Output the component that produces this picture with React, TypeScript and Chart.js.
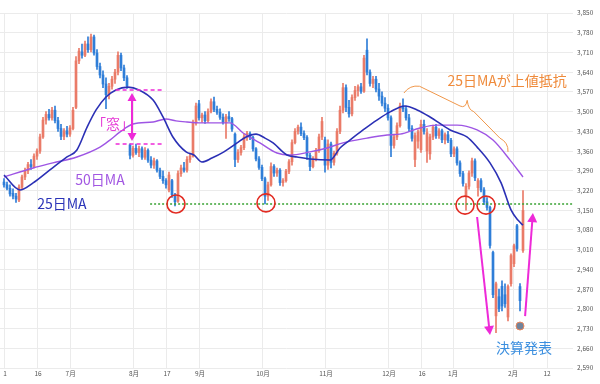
import React, { useEffect, useRef } from "react";
import { Chart, registerables } from "chart.js";
Chart.register(...registerables);

// ---- candle data (index = trading day) ----
const opens = [
  3250, 3240, 3228, 3210, 3200, 3186, 3232, 3268, 3290, 3312, 3305, 3342, 3360, 3410, 3470, 3490, 3478, 3505, 3468, 3440,
  3412, 3432, 3420, 3440, 3515, 3680, 3712, 3700, 3740, 3720, 3765, 3708, 3660, 3630, 3598, 3560, 3590, 3615, 3640, 3700,
  3655, 3620, 3382, 3345, 3370, 3355, 3368, 3338, 3362, 3328, 3310, 3325, 3292, 3270, 3255, 3222, 3255, 3205, 3182, 3280,
  3300, 3292, 3330, 3342, 3460, 3528, 3478, 3488, 3468, 3500, 3535, 3508, 3498, 3480, 3462, 3482, 3475, 3420, 3330, 3355,
  3372, 3410, 3422, 3408, 3368, 3332, 3302, 3262, 3200, 3240, 3305, 3282, 3292, 3248, 3255, 3288, 3322, 3390, 3430, 3445,
  3422, 3408, 3345, 3305, 3332, 3362, 3410, 3400, 3310, 3385, 3320, 3352, 3430, 3505, 3585, 3515, 3492, 3550, 3575, 3588,
  3572, 3718, 3640, 3600, 3615, 3580, 3555, 3530, 3512, 3478, 3380, 3410, 3450, 3520, 3510, 3478, 3440, 3330, 3395, 3365,
  3455, 3360, 3350, 3410, 3445, 3415, 3432, 3400, 3418, 3398, 3350, 3368, 3318, 3280, 3200, 3235, 3282, 3325, 3230, 3255,
  3222, 3180, 3160, 3000, 2775, 2843, 2880, 2850, 2771, 2889, 2960, 3095, 2879, 3007,
];
const highs = [
  3262, 3250, 3240, 3226, 3210, 3240, 3275, 3300, 3320, 3330, 3350, 3368, 3420, 3480, 3500, 3508, 3515, 3520, 3480, 3455,
  3440, 3448, 3450, 3515, 3695, 3725, 3740, 3750, 3765, 3775, 3772, 3720, 3672, 3645, 3620, 3600, 3625, 3650, 3712, 3708,
  3665, 3628, 3386, 3378, 3385, 3378, 3375, 3372, 3368, 3340, 3335, 3330, 3300, 3290, 3262, 3285, 3260, 3210, 3290, 3310,
  3320, 3340, 3350, 3470, 3530, 3540, 3495, 3500, 3510, 3545, 3552, 3520, 3510, 3492, 3490, 3500, 3480, 3425, 3365, 3380,
  3420, 3430, 3428, 3412, 3372, 3340, 3310, 3268, 3250, 3318, 3312, 3300, 3298, 3262, 3295, 3330, 3400, 3440, 3452, 3460,
  3432, 3415, 3352, 3340, 3370, 3420, 3480, 3410, 3400, 3392, 3360, 3440, 3520, 3600, 3595, 3540, 3560, 3590, 3595, 3600,
  3700, 3758, 3648, 3625, 3625, 3600, 3570, 3550, 3525, 3485, 3420, 3460, 3530, 3545, 3520, 3490, 3450, 3425, 3435, 3470,
  3470, 3440, 3420, 3452, 3455, 3440, 3438, 3425, 3430, 3405, 3375, 3375, 3325, 3288, 3245, 3290, 3335, 3332, 3262, 3262,
  3230, 3195, 3165, 3005, 2895, 2870, 2899, 2889, 2885, 2995, 3030, 3100, 2890, 3220,
];
const lows = [
  3232, 3222, 3200, 3190, 3178, 3180, 3225, 3258, 3280, 3295, 3300, 3330, 3352, 3405, 3455, 3470, 3470, 3460, 3430, 3400,
  3400, 3410, 3412, 3435, 3510, 3670, 3690, 3695, 3710, 3712, 3700, 3650, 3620, 3585, 3510, 3545, 3580, 3600, 3630, 3645,
  3610, 3582, 3332, 3338, 3348, 3340, 3330, 3330, 3320, 3300, 3298, 3285, 3262, 3245, 3228, 3215, 3195, 3165, 3178, 3270,
  3285, 3285, 3320, 3338, 3452, 3470, 3462, 3458, 3462, 3495, 3500, 3490, 3472, 3455, 3405, 3465, 3430, 3305, 3320, 3345,
  3365, 3398, 3400, 3360, 3325, 3295, 3255, 3172, 3185, 3235, 3270, 3270, 3238, 3235, 3250, 3280, 3310, 3385, 3420, 3415,
  3400, 3330, 3290, 3300, 3325, 3355, 3400, 3285, 3295, 3300, 3310, 3345, 3422, 3495, 3500, 3480, 3485, 3540, 3555, 3565,
  3568, 3630, 3590, 3585, 3570, 3540, 3520, 3500, 3470, 3340, 3370, 3400, 3445, 3500, 3470, 3430, 3395, 3305, 3370, 3355,
  3420, 3320, 3330, 3400, 3405, 3405, 3390, 3385, 3390, 3340, 3340, 3310, 3270, 3235, 3150, 3225, 3270, 3255, 3200, 3215,
  3170, 3150, 3015, 2840, 2715, 2790, 2793, 2805, 2757, 2880, 2950, 3005, 2793, 3000,
];
const closes = [
  3240, 3228, 3208, 3200, 3190, 3232, 3268, 3290, 3312, 3305, 3342, 3360, 3410, 3470, 3490, 3478, 3505, 3468, 3440, 3412,
  3432, 3420, 3442, 3505, 3680, 3715, 3700, 3740, 3720, 3765, 3708, 3660, 3630, 3598, 3560, 3590, 3615, 3640, 3700, 3655,
  3620, 3592, 3345, 3370, 3355, 3368, 3338, 3362, 3328, 3310, 3325, 3292, 3270, 3255, 3240, 3275, 3205, 3180, 3280, 3300,
  3292, 3330, 3342, 3460, 3520, 3478, 3488, 3468, 3500, 3535, 3508, 3498, 3480, 3462, 3482, 3475, 3438, 3330, 3355, 3372,
  3410, 3422, 3408, 3368, 3332, 3302, 3262, 3200, 3240, 3305, 3282, 3292, 3248, 3255, 3288, 3322, 3390, 3430, 3445, 3422,
  3408, 3345, 3305, 3332, 3362, 3410, 3465, 3310, 3385, 3320, 3352, 3430, 3505, 3585, 3515, 3492, 3550, 3575, 3588, 3572,
  3690, 3640, 3600, 3615, 3580, 3555, 3530, 3512, 3478, 3380, 3410, 3450, 3520, 3510, 3478, 3440, 3405, 3415, 3428, 3455,
  3430, 3425, 3410, 3445, 3415, 3432, 3400, 3418, 3398, 3350, 3368, 3318, 3280, 3245, 3235, 3282, 3325, 3265, 3255, 3222,
  3180, 3160, 3025, 2850, 2889, 2800, 2810, 2818, 2879, 2989, 3024, 3014, 2829, 3149,
];

// ---- moving averages (x = trading-day index) ----
const ma25X = [0, 5.3, 9.7, 15.3, 21, 24.3, 27.7, 30.7, 34, 37.3, 41.3, 45, 49.7, 53, 56.3, 60.7, 63.3, 66, 69.3, 73.3, 77.7, 80.7, 84, 87, 89.7, 94.3, 97.7, 102, 108.7, 112, 115.3, 119.7, 124.3, 128.7, 133.7, 137.7, 142, 148.7, 154.3, 157.7, 162, 165.7, 169, 171.3, 173];
const ma25Y = [3275, 3222, 3247, 3293, 3339, 3364, 3445, 3506, 3552, 3577, 3587, 3577, 3541, 3481, 3410, 3357, 3346, 3321, 3335, 3357, 3389, 3410, 3420, 3406, 3389, 3346, 3339, 3332, 3328, 3371, 3399, 3435, 3470, 3499, 3520, 3506, 3481, 3435, 3410, 3374, 3318, 3247, 3151, 3115, 3097];
const ma50X = [0, 9.7, 16.3, 24.3, 32, 35.3, 38.7, 43, 49.7, 54, 57.3, 61, 65.3, 75.3, 79.7, 85.3, 91, 95.3, 102, 107.7, 113, 121, 127.7, 132, 138.7, 144.3, 151, 157.7, 163, 168.7, 173];
const ma50Y = [3268, 3300, 3318, 3339, 3374, 3399, 3428, 3456, 3463, 3474, 3467, 3463, 3460, 3460, 3424, 3389, 3353, 3346, 3357, 3371, 3389, 3406, 3417, 3420, 3442, 3452, 3452, 3435, 3399, 3328, 3268];

// support line
const supportLevel = 3172;
const supportFrom = 48.7;

// axes
const xTickPos = [0.33, 11.33, 22.2, 43.33, 54.33, 65.33, 86.33, 107.33, 128.33, 139.33, 149.67, 169.67, 181];
const xTickLabels = ["1", "16", "7月", "8月", "17", "9月", "10月", "11月", "12月", "16", "1月", "2月", "12"];
const yTicks = [2590, 2660, 2730, 2800, 2870, 2940, 3010, 3080, 3150, 3220, 3290, 3360, 3430, 3500, 3570, 3640, 3710, 3780, 3850];

// annotations (data coordinates)
const circles = [
  [57.33, 3172],
  [87.33, 3176],
  [153.67, 3168],
  [160.67, 3168],
];
const windowTop = 3577;
const windowBottom = 3385;
const windowFrom = 37.2;
const windowTo = 52.6;
const windowArrowX = 42.67;
const downArrow = [157.7, 3126, 162, 2707];
const upArrow = [173.7, 2774, 176.3, 3140];
const earningsDot = [172, 2739];

const UP = "#ea7b68";
const DOWN = "#2f7ed8";
const FONT = "'Noto Sans CJK JP', 'Noto Sans', sans-serif";

function arrowHead(ctx: CanvasRenderingContext2D, x1: number, y1: number, x2: number, y2: number, len: number, w: number) {
  const a = Math.atan2(y2 - y1, x2 - x1);
  ctx.beginPath();
  ctx.moveTo(x2, y2);
  ctx.lineTo(x2 - len * Math.cos(a) + w * Math.sin(a), y2 - len * Math.sin(a) - w * Math.cos(a));
  ctx.lineTo(x2 - len * Math.cos(a) - w * Math.sin(a), y2 - len * Math.sin(a) + w * Math.cos(a));
  ctx.closePath();
  ctx.fill();
}

const annotPlugin = {
  id: "annot",
  afterDatasetsDraw(chart: any) {
    const ctx: CanvasRenderingContext2D = chart.ctx;
    const X = (v: number) => chart.scales.x.getPixelForValue(v);
    const Y = (v: number) => chart.scales.y.getPixelForValue(v);
    ctx.save();

    // window dashed lines
    ctx.strokeStyle = "#ee2ad8";
    ctx.fillStyle = "#ee2ad8";
    ctx.lineWidth = 1.5;
    ctx.setLineDash([4, 3]);
    ctx.beginPath();
    ctx.moveTo(X(windowFrom), Y(windowTop));
    ctx.lineTo(X(windowTo), Y(windowTop));
    ctx.moveTo(X(windowFrom), Y(windowBottom));
    ctx.lineTo(X(windowTo), Y(windowBottom));
    ctx.stroke();
    ctx.setLineDash([]);
    // double arrow
    const ax = X(windowArrowX);
    const ay1 = Y(windowTop) + 3;
    const ay2 = Y(windowBottom) - 3;
    ctx.lineWidth = 2;
    ctx.beginPath();
    ctx.moveTo(ax, ay1 + 6);
    ctx.lineTo(ax, ay2 - 6);
    ctx.stroke();
    arrowHead(ctx, ax, ay2, ax, ay1, 8, 4.5);
    arrowHead(ctx, ax, ay1, ax, ay2, 8, 4.5);

    // magenta price arrows
    for (const a of [downArrow, upArrow]) {
      const x1 = X(a[0]), y1 = Y(a[1]), x2 = X(a[2]), y2 = Y(a[3]);
      const ang = Math.atan2(y2 - y1, x2 - x1);
      ctx.beginPath();
      ctx.moveTo(x1, y1);
      ctx.lineTo(x2 - 6 * Math.cos(ang), y2 - 6 * Math.sin(ang));
      ctx.stroke();
      arrowHead(ctx, x1, y1, x2, y2, 9, 5);
    }

    // red circles
    ctx.strokeStyle = "#e22b22";
    ctx.lineWidth = 1.6;
    for (const c of circles) {
      ctx.beginPath();
      ctx.arc(X(c[0]), Y(c[1]), 9, 0, Math.PI * 2);
      ctx.stroke();
    }

    // orange brace
    ctx.strokeStyle = "#f0974a";
    ctx.lineWidth = 1;
    ctx.beginPath();
    ctx.moveTo(X(133.3), Y(3566));
    ctx.quadraticCurveTo(X(135.3), Y(3595), X(138.5), Y(3590));
    ctx.lineTo(X(152), Y(3520));
    ctx.quadraticCurveTo(X(153.9), Y(3510), X(154.4), Y(3540));
    ctx.quadraticCurveTo(X(154.8), Y(3505), X(156.6), Y(3500));
    ctx.lineTo(X(165.3), Y(3406));
    ctx.quadraticCurveTo(X(168.2), Y(3390), X(168), Y(3357));
    ctx.stroke();

    // earnings dot
    ctx.beginPath();
    ctx.arc(X(earningsDot[0]), Y(earningsDot[1]), 4, 0, Math.PI * 2);
    ctx.fillStyle = "#72849c";
    ctx.fill();
    ctx.strokeStyle = "#e9875c";
    ctx.lineWidth = 1;
    ctx.stroke();

    // texts
    ctx.textAlign = "center";
    ctx.textBaseline = "middle";
    ctx.font = `14px ${FONT}`;
    ctx.fillStyle = "#e63ad6";
    ctx.fillText("「窓」", X(36.3), Y(3456));
    ctx.fillStyle = "#a257e2";
    ctx.fillText("50日MA", X(32), Y(3257));
    ctx.fillStyle = "#2b34b8";
    ctx.fillText("25日MA", X(19.3), Y(3172));
    ctx.fillStyle = "#ef8b3c";
    ctx.fillText("25日MAが上値抵抗", X(167.7), Y(3609));
    ctx.fillStyle = "#3c8fdf";
    ctx.fillText("決算発表", X(173.3), Y(2661));

    ctx.restore();
  },
};

export default function App() {
  const ref = useRef<HTMLCanvasElement | null>(null);
  useEffect(() => {
    document.body.style.margin = "0";
    const canvas = ref.current;
    if (!canvas) return;
    const colors = opens.map((o, i) => (closes[i] >= o ? UP : DOWN));
    const wickData = opens.map((_, i) => ({ x: i, y: [lows[i], highs[i]] }));
    const bodyData = opens.map((o, i) => ({ x: i, y: [Math.min(o, closes[i]), Math.max(o, closes[i])] }));
    const chart = new Chart(canvas, {
      type: "bar",
      data: {
        datasets: [
          {
            type: "line",
            data: ma25X.map((x, i) => ({ x, y: ma25Y[i] })),
            borderColor: "#2b30b5",
            borderWidth: 1.6,
            pointRadius: 0,
            cubicInterpolationMode: "monotone",
            order: 0,
          } as any,
          {
            type: "line",
            data: ma50X.map((x, i) => ({ x, y: ma50Y[i] })),
            borderColor: "#9e55e4",
            borderWidth: 1.4,
            pointRadius: 0,
            cubicInterpolationMode: "monotone",
            order: 0,
          } as any,
          {
            type: "line",
            data: [
              { x: supportFrom, y: supportLevel },
              { x: 190, y: supportLevel },
            ],
            borderColor: "#3aa335",
            borderWidth: 1.5,
            borderDash: [2, 2],
            pointRadius: 0,
            order: 0,
          } as any,
          {
            type: "bar",
            data: bodyData,
            backgroundColor: colors,
            barThickness: 2,
            minBarLength: 1,
            grouped: false,
            order: 1,
          } as any,
          {
            type: "bar",
            data: wickData,
            backgroundColor: colors,
            barThickness: 1,
            grouped: false,
            order: 2,
          } as any,
        ],
      },
      options: {
        responsive: false,
        animation: false,
        layout: { padding: { top: 13, left: 0, right: 0, bottom: 0 } },
        plugins: { legend: { display: false }, tooltip: { enabled: false } },
        scales: {
          x: {
            type: "linear",
            offset: false,
            min: -4 / 3,
            max: 569 / 3,
            afterBuildTicks: (s: any) => {
              s.ticks = xTickPos.map((v) => ({ value: v }));
            },
            afterFit: (s: any) => {
              s.height = 16;
            },
            ticks: {
              autoSkip: false,
              maxRotation: 0,
              padding: 2,
              color: "#555",
              font: { size: 6.5, family: FONT },
              callback: (_v: any, idx: number) => xTickLabels[idx],
            },
            grid: { color: "#ebebeb", drawTicks: false, offset: false },
            border: { display: false },
          },
          y: {
            position: "right",
            min: 2590,
            max: 3850,
            afterBuildTicks: (s: any) => {
              s.ticks = yTicks.map((v) => ({ value: v }));
            },
            afterFit: (s: any) => {
              s.width = 27;
            },
            ticks: {
              padding: 4,
              color: "#555",
              font: { size: 6.5, family: FONT },
            },
            grid: { color: "#ebebeb", drawTicks: false },
            border: { display: false },
          },
        },
      } as any,
      plugins: [annotPlugin],
    });
    return () => chart.destroy();
  }, []);
  return (
    <div style={{ position: "fixed", left: 0, top: 0, width: 600, height: 384 }}>
      <canvas ref={ref} width={600} height={384} />
    </div>
  );
}
